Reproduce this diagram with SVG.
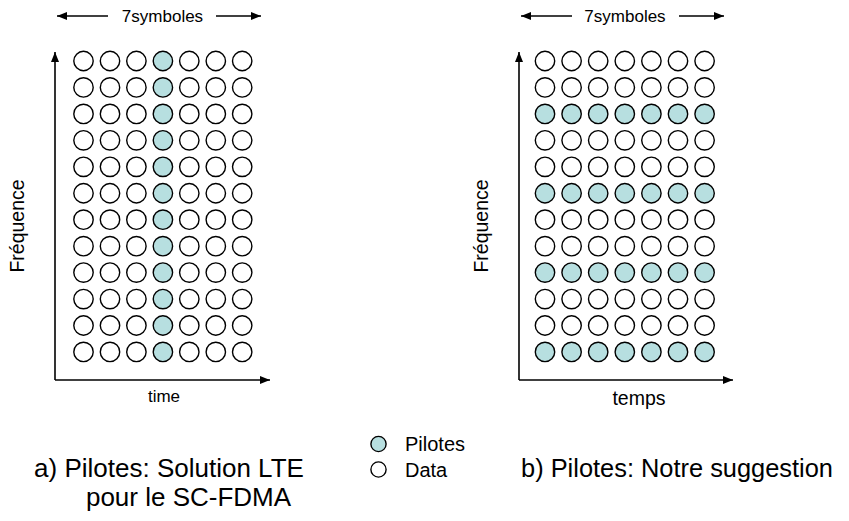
<svg xmlns="http://www.w3.org/2000/svg" width="849" height="521" viewBox="0 0 849 521">
<style>
text{font-family:"Liberation Sans",Arial,sans-serif;fill:#000}
.d{fill:#fff;stroke:#000;stroke-width:1.4}
.p{fill:#b7dfe0;stroke:#000;stroke-width:1.4}
.ax{stroke:#000;stroke-width:1.6;fill:none}
.ar{stroke:#000;stroke-width:1.4;fill:none}
.sm{font-size:17px}
.md{font-size:19.5px}
.lg{font-size:20px}
.bga{font-size:26px}
.bgb{font-size:25.4px}
</style>
<defs>
<marker id="ah" viewBox="0 0 10 8" refX="10" refY="4" markerWidth="10" markerHeight="8" markerUnits="userSpaceOnUse" orient="auto">
<path d="M0,0 L10,4 L0,8 Z" fill="#000"/>
</marker>
<circle id="cd" r="9.7" class="d"/>
<circle id="cp" r="9.7" class="p"/>
</defs>

<g id="connectors">
<line class="ar" x1="108" y1="16" x2="57" y2="16" marker-end="url(#ah)"/>
<line class="ar" x1="216" y1="16" x2="261" y2="16" marker-end="url(#ah)"/>
<line class="ax" x1="55" y1="380" x2="55" y2="52" marker-end="url(#ah)"/>
<line class="ax" x1="55" y1="380" x2="270" y2="380" marker-end="url(#ah)"/>
<line class="ar" x1="572" y1="16" x2="521" y2="16" marker-end="url(#ah)"/>
<line class="ar" x1="679" y1="16" x2="724" y2="16" marker-end="url(#ah)"/>
<line class="ax" x1="519" y1="380" x2="519" y2="52" marker-end="url(#ah)"/>
<line class="ax" x1="519" y1="380" x2="733" y2="380" marker-end="url(#ah)"/>
</g>

<g id="labels-left">
<text class="sm" x="162.5" y="22" text-anchor="middle">7symboles</text>
<text class="sm" x="164" y="402" text-anchor="middle">time</text>
<text class="md" transform="translate(24,226) rotate(-90)" text-anchor="middle">Fréquence</text>
<text class="bga" x="169" y="477" text-anchor="middle">a) Pilotes: Solution LTE</text>
<text class="bga" x="188.5" y="506" text-anchor="middle">pour le SC-FDMA</text>
</g>

<g id="labels-right">
<text class="sm" x="625" y="22" text-anchor="middle">7symboles</text>
<text class="md" x="639" y="405" text-anchor="middle">temps</text>
<text class="md" transform="translate(488,226) rotate(-90)" text-anchor="middle">Fréquence</text>
<text class="bgb" x="677" y="477" text-anchor="middle">b) Pilotes: Notre suggestion</text>
</g>

<g id="legend">
<circle class="p" cx="378.5" cy="444" r="7.6"/>
<text class="lg" x="405" y="451">Pilotes</text>
<circle class="d" cx="378.5" cy="469.5" r="7.6"/>
<text class="lg" x="405" y="477">Data</text>
</g>

<g id="grid-left">
<g id="lcol1">
<use href="#cd" x="83.5" y="61"/><use href="#cd" x="83.5" y="87.45"/><use href="#cd" x="83.5" y="113.9"/><use href="#cd" x="83.5" y="140.35"/><use href="#cd" x="83.5" y="166.8"/><use href="#cd" x="83.5" y="193.25"/><use href="#cd" x="83.5" y="219.7"/><use href="#cd" x="83.5" y="246.15"/><use href="#cd" x="83.5" y="272.6"/><use href="#cd" x="83.5" y="299.05"/><use href="#cd" x="83.5" y="325.5"/><use href="#cd" x="83.5" y="351.95"/>
</g>
<g id="lcol2">
<use href="#cd" x="110" y="61"/><use href="#cd" x="110" y="87.45"/><use href="#cd" x="110" y="113.9"/><use href="#cd" x="110" y="140.35"/><use href="#cd" x="110" y="166.8"/><use href="#cd" x="110" y="193.25"/><use href="#cd" x="110" y="219.7"/><use href="#cd" x="110" y="246.15"/><use href="#cd" x="110" y="272.6"/><use href="#cd" x="110" y="299.05"/><use href="#cd" x="110" y="325.5"/><use href="#cd" x="110" y="351.95"/>
</g>
<g id="lcol3">
<use href="#cd" x="136.4" y="61"/><use href="#cd" x="136.4" y="87.45"/><use href="#cd" x="136.4" y="113.9"/><use href="#cd" x="136.4" y="140.35"/><use href="#cd" x="136.4" y="166.8"/><use href="#cd" x="136.4" y="193.25"/><use href="#cd" x="136.4" y="219.7"/><use href="#cd" x="136.4" y="246.15"/><use href="#cd" x="136.4" y="272.6"/><use href="#cd" x="136.4" y="299.05"/><use href="#cd" x="136.4" y="325.5"/><use href="#cd" x="136.4" y="351.95"/>
</g>
<g id="lcol4">
<use href="#cp" x="162.9" y="61"/><use href="#cp" x="162.9" y="87.45"/><use href="#cp" x="162.9" y="113.9"/><use href="#cp" x="162.9" y="140.35"/><use href="#cp" x="162.9" y="166.8"/><use href="#cp" x="162.9" y="193.25"/><use href="#cp" x="162.9" y="219.7"/><use href="#cp" x="162.9" y="246.15"/><use href="#cp" x="162.9" y="272.6"/><use href="#cp" x="162.9" y="299.05"/><use href="#cp" x="162.9" y="325.5"/><use href="#cp" x="162.9" y="351.95"/>
</g>
<g id="lcol5">
<use href="#cd" x="189.3" y="61"/><use href="#cd" x="189.3" y="87.45"/><use href="#cd" x="189.3" y="113.9"/><use href="#cd" x="189.3" y="140.35"/><use href="#cd" x="189.3" y="166.8"/><use href="#cd" x="189.3" y="193.25"/><use href="#cd" x="189.3" y="219.7"/><use href="#cd" x="189.3" y="246.15"/><use href="#cd" x="189.3" y="272.6"/><use href="#cd" x="189.3" y="299.05"/><use href="#cd" x="189.3" y="325.5"/><use href="#cd" x="189.3" y="351.95"/>
</g>
<g id="lcol6">
<use href="#cd" x="215.8" y="61"/><use href="#cd" x="215.8" y="87.45"/><use href="#cd" x="215.8" y="113.9"/><use href="#cd" x="215.8" y="140.35"/><use href="#cd" x="215.8" y="166.8"/><use href="#cd" x="215.8" y="193.25"/><use href="#cd" x="215.8" y="219.7"/><use href="#cd" x="215.8" y="246.15"/><use href="#cd" x="215.8" y="272.6"/><use href="#cd" x="215.8" y="299.05"/><use href="#cd" x="215.8" y="325.5"/><use href="#cd" x="215.8" y="351.95"/>
</g>
<g id="lcol7">
<use href="#cd" x="242.2" y="61"/><use href="#cd" x="242.2" y="87.45"/><use href="#cd" x="242.2" y="113.9"/><use href="#cd" x="242.2" y="140.35"/><use href="#cd" x="242.2" y="166.8"/><use href="#cd" x="242.2" y="193.25"/><use href="#cd" x="242.2" y="219.7"/><use href="#cd" x="242.2" y="246.15"/><use href="#cd" x="242.2" y="272.6"/><use href="#cd" x="242.2" y="299.05"/><use href="#cd" x="242.2" y="325.5"/><use href="#cd" x="242.2" y="351.95"/>
</g>
</g>

<g id="grid-right">
<g id="rrow1"><use href="#cd" x="545" y="61"/><use href="#cd" x="571.6" y="61"/><use href="#cd" x="598.2" y="61"/><use href="#cd" x="624.8" y="61"/><use href="#cd" x="651.4" y="61"/><use href="#cd" x="678" y="61"/><use href="#cd" x="704.6" y="61"/></g>
<g id="rrow2"><use href="#cd" x="545" y="87.45"/><use href="#cd" x="571.6" y="87.45"/><use href="#cd" x="598.2" y="87.45"/><use href="#cd" x="624.8" y="87.45"/><use href="#cd" x="651.4" y="87.45"/><use href="#cd" x="678" y="87.45"/><use href="#cd" x="704.6" y="87.45"/></g>
<g id="rrow3"><use href="#cp" x="545" y="113.9"/><use href="#cp" x="571.6" y="113.9"/><use href="#cp" x="598.2" y="113.9"/><use href="#cp" x="624.8" y="113.9"/><use href="#cp" x="651.4" y="113.9"/><use href="#cp" x="678" y="113.9"/><use href="#cp" x="704.6" y="113.9"/></g>
<g id="rrow4"><use href="#cd" x="545" y="140.35"/><use href="#cd" x="571.6" y="140.35"/><use href="#cd" x="598.2" y="140.35"/><use href="#cd" x="624.8" y="140.35"/><use href="#cd" x="651.4" y="140.35"/><use href="#cd" x="678" y="140.35"/><use href="#cd" x="704.6" y="140.35"/></g>
<g id="rrow5"><use href="#cd" x="545" y="166.8"/><use href="#cd" x="571.6" y="166.8"/><use href="#cd" x="598.2" y="166.8"/><use href="#cd" x="624.8" y="166.8"/><use href="#cd" x="651.4" y="166.8"/><use href="#cd" x="678" y="166.8"/><use href="#cd" x="704.6" y="166.8"/></g>
<g id="rrow6"><use href="#cp" x="545" y="193.25"/><use href="#cp" x="571.6" y="193.25"/><use href="#cp" x="598.2" y="193.25"/><use href="#cp" x="624.8" y="193.25"/><use href="#cp" x="651.4" y="193.25"/><use href="#cp" x="678" y="193.25"/><use href="#cp" x="704.6" y="193.25"/></g>
<g id="rrow7"><use href="#cd" x="545" y="219.7"/><use href="#cd" x="571.6" y="219.7"/><use href="#cd" x="598.2" y="219.7"/><use href="#cd" x="624.8" y="219.7"/><use href="#cd" x="651.4" y="219.7"/><use href="#cd" x="678" y="219.7"/><use href="#cd" x="704.6" y="219.7"/></g>
<g id="rrow8"><use href="#cd" x="545" y="246.15"/><use href="#cd" x="571.6" y="246.15"/><use href="#cd" x="598.2" y="246.15"/><use href="#cd" x="624.8" y="246.15"/><use href="#cd" x="651.4" y="246.15"/><use href="#cd" x="678" y="246.15"/><use href="#cd" x="704.6" y="246.15"/></g>
<g id="rrow9"><use href="#cp" x="545" y="272.6"/><use href="#cp" x="571.6" y="272.6"/><use href="#cp" x="598.2" y="272.6"/><use href="#cp" x="624.8" y="272.6"/><use href="#cp" x="651.4" y="272.6"/><use href="#cp" x="678" y="272.6"/><use href="#cp" x="704.6" y="272.6"/></g>
<g id="rrow10"><use href="#cd" x="545" y="299.05"/><use href="#cd" x="571.6" y="299.05"/><use href="#cd" x="598.2" y="299.05"/><use href="#cd" x="624.8" y="299.05"/><use href="#cd" x="651.4" y="299.05"/><use href="#cd" x="678" y="299.05"/><use href="#cd" x="704.6" y="299.05"/></g>
<g id="rrow11"><use href="#cd" x="545" y="325.5"/><use href="#cd" x="571.6" y="325.5"/><use href="#cd" x="598.2" y="325.5"/><use href="#cd" x="624.8" y="325.5"/><use href="#cd" x="651.4" y="325.5"/><use href="#cd" x="678" y="325.5"/><use href="#cd" x="704.6" y="325.5"/></g>
<g id="rrow12"><use href="#cp" x="545" y="351.95"/><use href="#cp" x="571.6" y="351.95"/><use href="#cp" x="598.2" y="351.95"/><use href="#cp" x="624.8" y="351.95"/><use href="#cp" x="651.4" y="351.95"/><use href="#cp" x="678" y="351.95"/><use href="#cp" x="704.6" y="351.95"/></g>
</g>
</svg>
